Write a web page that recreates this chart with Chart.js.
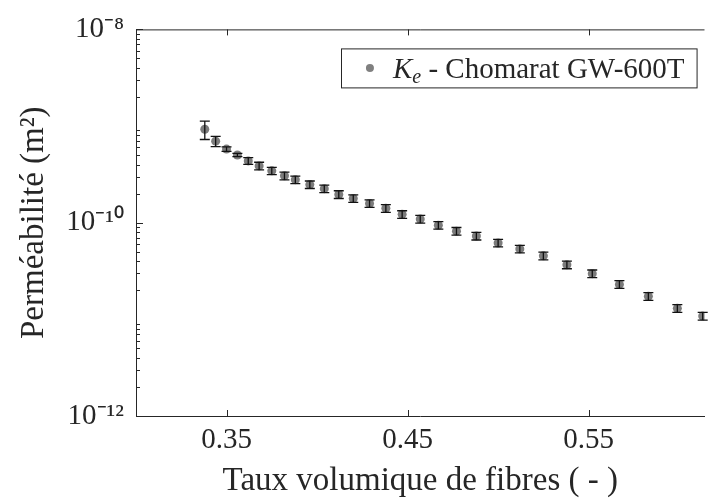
<!DOCTYPE html>
<html>
<head>
<meta charset="utf-8">
<script src="https://cdn.jsdelivr.net/npm/chart.js@4.4.1/dist/chart.umd.min.js"></script>
<style>
  html, body { margin: 0; padding: 0; background: #fff; }
  #wrap { width: 709px; height: 498px; }
</style>
</head>
<body>
<div id="wrap"><canvas id="permChart"></canvas></div>
<script>
// Taux volumique de fibres (-)
const fibreRate = [0.338, 0.344, 0.350, 0.356, 0.362, 0.368, 0.375, 0.382, 0.388, 0.396,
                   0.404, 0.412, 0.420, 0.429, 0.438, 0.447, 0.457, 0.467, 0.477, 0.488,
                   0.500, 0.512, 0.525, 0.538, 0.552, 0.567, 0.583, 0.599, 0.613];
// Ke (m^2)
const permeability = [9.26e-10, 6.98e-10, 5.78e-10, 5.02e-10, 4.36e-10, 3.87e-10, 3.44e-10, 3.06e-10, 2.79e-10, 2.48e-10,
                      2.25e-10, 1.96e-10, 1.78e-10, 1.58e-10, 1.41e-10, 1.22e-10, 1.09e-10, 9.42e-11, 8.18e-11, 7.28e-11,
                      6.17e-11, 5.36e-11, 4.54e-11, 3.67e-11, 2.97e-11, 2.30e-11, 1.73e-11, 1.30e-11, 1.08e-11];
// error (+/-) on Ke
const permError = [2.0e-10, 8.5e-11, 3.0e-11, 2.0e-11, 3.5e-11, 3.5e-11, 3.0e-11, 2.8e-11, 2.5e-11, 2.2e-11,
                   2.0e-11, 1.8e-11, 1.6e-11, 1.4e-11, 1.3e-11, 1.1e-11, 1.0e-11, 8.5e-12, 7.4e-12, 6.6e-12,
                   5.6e-12, 4.8e-12, 4.1e-12, 3.3e-12, 2.7e-12, 2.1e-12, 1.6e-12, 1.2e-12, 1.0e-12];

const xTicks = [0.35, 0.45, 0.55];
const yTicks = [1e-12, 1e-10, 1e-8];
const seriesName = ' - Chomarat GW-600T';

const axisColor = '#262626';
const serif = "'Liberation Serif', serif";

function supNum(n) {
    const map = {'-': '\u207B', '0': '\u2070', '1': '\u00B9', '2': '\u00B2', '3': '\u00B3', '4': '\u2074',
                 '5': '\u2075', '6': '\u2076', '7': '\u2077', '8': '\u2078', '9': '\u2079'};
    return String(n).split('').map(c => map[c]).join('');
}

// error bars drawn on top of the markers
const errorBars = {
    id: 'errorBars',
    afterDatasetsDraw(chart) {
        const ctx = chart.ctx;
        const yScale = chart.scales.y;
        const meta = chart.getDatasetMeta(0);
        const area = chart.chartArea;
        ctx.save();
        ctx.beginPath();
        ctx.rect(area.left, area.top, area.right - area.left + 4, area.bottom - area.top);
        ctx.clip();
        ctx.strokeStyle = '#111';
        ctx.lineWidth = 1.3;
        meta.data.forEach((pt, i) => {
            const yHi = yScale.getPixelForValue(permeability[i] + permError[i]);
            const yLo = yScale.getPixelForValue(permeability[i] - permError[i]);
            ctx.beginPath();
            ctx.moveTo(pt.x, yHi); ctx.lineTo(pt.x, yLo);
            ctx.moveTo(pt.x - 5, yHi); ctx.lineTo(pt.x + 5, yHi);
            ctx.moveTo(pt.x - 5, yLo); ctx.lineTo(pt.x + 5, yLo);
            ctx.stroke();
        });
        ctx.restore();
    }
};

// matlab style box: top line and inward ticks
const axesBox = {
    id: 'axesBox',
    afterDraw(chart) {
        const ctx = chart.ctx;
        const a = chart.chartArea;
        const xs = chart.scales.x, ys = chart.scales.y;
        ctx.save();
        ctx.strokeStyle = axisColor;
        ctx.lineWidth = 1;
        ctx.beginPath();
        ctx.moveTo(a.left, a.top + 0.5); ctx.lineTo(a.right, a.top + 0.5);
        xTicks.forEach(v => {
            const px = Math.round(xs.getPixelForValue(v)) + 0.5;
            ctx.moveTo(px, a.bottom); ctx.lineTo(px, a.bottom - 6);
            ctx.moveTo(px, a.top); ctx.lineTo(px, a.top + 6);
        });
        yTicks.forEach(v => {
            const py = Math.round(ys.getPixelForValue(v)) + 0.5;
            ctx.moveTo(a.left, py); ctx.lineTo(a.left + 7, py);
        });
        for (let e = -12; e < -8; e++) {
            for (let m = 2; m <= 9; m++) {
                const py = Math.round(ys.getPixelForValue(m * Math.pow(10, e))) + 0.5;
                ctx.moveTo(a.left, py); ctx.lineTo(a.left + 4, py);
            }
        }
        ctx.stroke();
        ctx.restore();
    }
};

// legend box in the upper right corner
const legendBox = {
    id: 'legendBox',
    afterDraw(chart) {
        const ctx = chart.ctx;
        const a = chart.chartArea;
        ctx.save();
        const fs = 29;
        ctx.font = 'italic ' + fs + 'px ' + serif;
        const wK = ctx.measureText('K').width;
        ctx.font = 'italic ' + Math.round(fs * 0.7) + 'px ' + serif;
        const wE = ctx.measureText('e').width;
        ctx.font = fs + 'px ' + serif;
        const wT = ctx.measureText(seriesName).width;
        const right = a.right - 8, top = a.top + 19, h = 39;
        const w = 54 + wK + wE + wT + 10;
        const left = right - w;
        ctx.fillStyle = '#fff';
        ctx.fillRect(left, top, w, h);
        ctx.strokeStyle = axisColor;
        ctx.lineWidth = 1;
        ctx.strokeRect(Math.round(left) + 0.5, top + 0.5, w, h);
        ctx.fillStyle = '#808080';
        ctx.beginPath();
        ctx.arc(left + 29, top + h / 2, 4, 0, Math.PI * 2);
        ctx.fill();
        ctx.fillStyle = axisColor;
        ctx.textBaseline = 'alphabetic';
        let tx = left + 52;
        const base = top + h / 2 + 10;
        ctx.font = 'italic ' + fs + 'px ' + serif;
        ctx.fillText('K', tx, base); tx += wK;
        ctx.font = 'italic ' + Math.round(fs * 0.7) + 'px ' + serif;
        ctx.fillText('e', tx, base + 5); tx += wE;
        ctx.font = fs + 'px ' + serif;
        ctx.fillText(seriesName, tx, base);
        ctx.restore();
    }
};

const ctx = document.getElementById('permChart').getContext('2d');
const permChart = new Chart(ctx, {
    type: 'scatter',
    data: {
        datasets: [{
            label: 'Ke - Chomarat GW-600T',
            data: fibreRate.map((x, i) => ({x: x, y: permeability[i]})),
            backgroundColor: 'rgba(100,100,100,0.85)',
            borderWidth: 0,
            pointRadius: 4.5
        }]
    },
    options: {
        responsive: true,
        maintainAspectRatio: false,
        animation: false,
        layout: { padding: { top: 25, right: 0, left: 0, bottom: 0 } },
        plugins: {
            legend: { display: false },
            tooltip: { enabled: false }
        },
        scales: {
            x: {
                type: 'linear',
                min: 0.30,
                max: 0.614,
                afterBuildTicks: s => { s.ticks = xTicks.map(v => ({value: v})); },
                afterFit: s => { s.height = 82; },
                ticks: {
                    callback: v => v.toFixed(2),
                    color: axisColor,
                    font: { family: serif, size: 29 },
                    padding: 7,
                    maxRotation: 0
                },
                grid: { display: false, drawTicks: false },
                border: { display: true, color: axisColor, width: 1 },
                title: {
                    display: true,
                    text: 'Taux volumique de fibres ( - )',
                    color: axisColor,
                    font: { family: serif, size: 33, lineHeight: 1 },
                    padding: { top: 0, bottom: 0 }
                }
            },
            y: {
                type: 'logarithmic',
                min: 1e-12,
                max: 1e-8,
                afterBuildTicks: s => { s.ticks = yTicks.map(v => ({value: v})); },
                afterFit: s => { s.width = 136; },
                ticks: {
                    callback: v => '10' + supNum(Math.round(Math.log10(v))),
                    color: axisColor,
                    font: { family: serif, size: 29 },
                    padding: 12
                },
                grid: { display: false, drawTicks: false },
                border: { display: true, color: axisColor, width: 1 },
                title: {
                    display: true,
                    text: 'Perméabilité (m²)',
                    color: axisColor,
                    font: { family: serif, size: 33, lineHeight: 1 },
                    padding: { top: 18, bottom: 0 }
                }
            }
        }
    },
    plugins: [errorBars, axesBox, legendBox]
});
</script>
</body>
</html>
